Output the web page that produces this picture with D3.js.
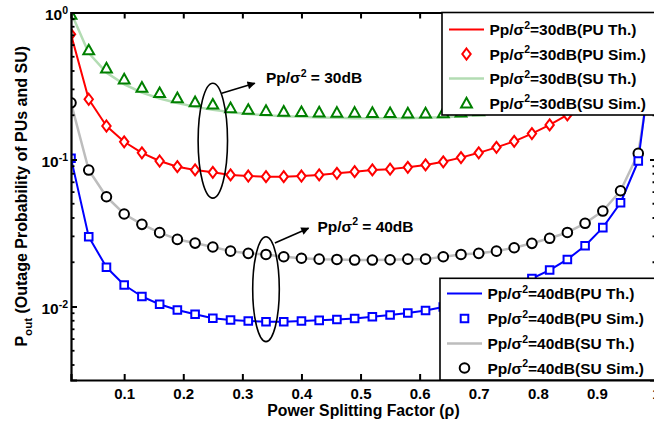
<!DOCTYPE html>
<html>
<head>
<meta charset="utf-8">
<script src="https://cdn.jsdelivr.net/npm/d3@7"></script>
<style>
  body { margin: 0; background: #fff; }
  svg { display: block; }
  text { font-family: "Liberation Sans", Arial, Helvetica, sans-serif; font-weight: bold; }
</style>
</head>
<body>
<svg id="chart" width="654" height="423"></svg>
<script>
// ---------------- DATA ----------------
const rhoSim = [0.01,0.04,0.07,0.10,0.13,0.16,0.19,0.22,0.25,0.28,0.31,0.34,0.37,0.40,0.43,0.46,0.49,
                0.52,0.55,0.58,0.61,0.64,0.67,0.70,0.73,0.76,0.79,0.82,0.85,0.88,0.91,0.94,0.97];
const rhoTh  = [0.01,0.04,0.07,0.10,0.13,0.16,0.19,0.22,0.25,0.28,0.31,0.34,0.37,0.40,0.43,0.46,0.49,
                0.52,0.55,0.58,0.61,0.64,0.67,0.70,0.73,0.76,0.79,0.82,0.85,0.88,0.91,0.94,0.97,0.98,0.99];

// Pp/sigma^2 = 30 dB
const puSim30 = [0.71,0.257,0.169,0.132,0.111,0.0977,0.0893,0.0849,0.0818,0.0785,0.0772,0.0764,0.0764,0.0772,0.0785,0.0805,0.0826,
                 0.0849,0.0860,0.0885,0.0918,0.0965,0.103,0.111,0.121,0.133,0.150,0.172,0.201,0.24,0.30,0.42,0.72];
const puTh30  = [0.71,0.257,0.169,0.132,0.111,0.0977,0.0893,0.0849,0.0818,0.0785,0.0772,0.0764,0.0764,0.0772,0.0785,0.0805,0.0826,
                 0.0849,0.0860,0.0885,0.0918,0.0965,0.103,0.111,0.121,0.133,0.150,0.172,0.201,0.24,0.30,0.42,0.72,1.0,2.0];
const suSim30 = [0.97,0.556,0.419,0.353,0.310,0.285,0.263,0.247,0.238,0.225,0.219,0.2155,0.2128,0.2114,0.2104,0.2094,0.2094,
                 0.2088,0.2084,0.2072,0.207,0.208,0.21,0.214,0.22,0.23,0.245,0.27,0.30,0.35,0.43,0.58,0.92];
const suTh30  = [1.0,0.53,0.39,0.325,0.285,0.26,0.242,0.228,0.218,0.21,0.204,0.2,0.197,0.195,0.193,0.192,0.191,
                 0.191,0.191,0.191,0.192,0.194,0.197,0.201,0.207,0.216,0.23,0.25,0.28,0.33,0.41,0.56,0.9,1.2,2.0];

// Pp/sigma^2 = 40 dB
const puSim40 = [0.102,0.0298,0.0185,0.0140,0.0117,0.01035,0.00947,0.00885,0.00831,0.00809,0.00796,0.00788,0.00788,0.00796,0.00805,0.00815,0.00829,
                 0.00852,0.00875,0.00903,0.00939,0.00992,0.01064,0.01142,0.01245,0.01378,0.0155,0.0177,0.0209,0.0259,0.0344,0.0508,0.0977];
const puTh40  = [0.102,0.0298,0.0185,0.0140,0.0117,0.01035,0.00947,0.00885,0.00831,0.00809,0.00796,0.00788,0.00788,0.00796,0.00805,0.00815,0.00829,
                 0.00852,0.00875,0.00903,0.00939,0.00992,0.01064,0.01142,0.01245,0.01378,0.0155,0.0177,0.0209,0.0259,0.0344,0.0508,0.0977,0.2,0.8];
const suSim40 = [0.243,0.0848,0.0558,0.0426,0.0362,0.0318,0.0286,0.0270,0.0254,0.0238,0.0230,0.0226,0.0218,0.0213,0.0210,0.0209,0.0207,
                 0.0207,0.0208,0.0210,0.0210,0.0218,0.0226,0.0230,0.0238,0.0251,0.0269,0.0291,0.0319,0.0368,0.0446,0.0613,0.110];
const suTh40  = [0.243,0.0848,0.0558,0.0426,0.0362,0.0318,0.0286,0.0270,0.0254,0.0238,0.0230,0.0226,0.0218,0.0213,0.0210,0.0209,0.0207,
                 0.0207,0.0208,0.0210,0.0210,0.0218,0.0226,0.0230,0.0238,0.0251,0.0269,0.0291,0.0319,0.0368,0.0446,0.0613,0.110,0.2,0.7];

const xTicks = [0.1,0.2,0.3,0.4,0.5,0.6,0.7,0.8,0.9,1];
const yTicks = [0.01,0.1,1];
const yTickExp = ["-2","-1","0"];

const legend30 = ["(PU Th.)","(PU Sim.)","(SU Th.)","(SU Sim.)"];
const legend40 = ["(PU Th.)","(PU Sim.)","(SU Th.)","(SU Sim.)"];

// ---------------- SETUP ----------------
const svg = d3.select("#chart");
const L = 71, R = 656, T = 12.5, B = 380;
const x = d3.scaleLinear().domain([0.01, 1.0]).range([L, R]);
const y = d3.scaleLog().domain([Math.pow(10,-2.5), 1]).range([B, T]);

const RED = "#ff0000", BLUE = "#0000ff", GREEN = "#008000", LGREEN = "#b3dcb3", GREY = "#bdbdbd";

svg.append("defs").append("clipPath").attr("id","plotclip")
  .append("rect").attr("x",L).attr("y",T).attr("width",R-L).attr("height",B-T);
svg.select("defs").append("marker").attr("id","arrow")
  .attr("viewBox","0 0 10 10").attr("refX",9).attr("refY",5)
  .attr("markerWidth",10).attr("markerHeight",8).attr("markerUnits","userSpaceOnUse")
  .attr("orient","auto")
  .append("path").attr("d","M0,0 L10,5 L0,10 Z").attr("fill","#000");

const plot = svg.append("g").attr("clip-path","url(#plotclip)");

function markerPath(type) {
  switch (type) {
    case "diamond": return "M0,-5.5 L4.2,0 L0,5.5 L-4.2,0 Z";
    case "square": return "M-3.8,-3.8 L3.8,-3.8 L3.8,3.8 L-3.8,3.8 Z";
    case "triangle": return "M0,-5.2 L5.4,4.4 L-5.4,4.4 Z";
    case "circle": return d3.arc()({innerRadius:0,outerRadius:4.8,startAngle:0,endAngle:2*Math.PI});
  }
}

function drawLine(xs, ys, color, width) {
  const line = d3.line().x((d,i)=>x(xs[i])).y(d=>y(d));
  plot.append("path").datum(ys).attr("d", line)
    .attr("fill","none").attr("stroke",color).attr("stroke-width",width)
    .attr("stroke-linejoin","round");
}
function drawMarkers(xs, ys, type, color) {
  plot.append("g").selectAll("path").data(ys).join("path")
    .attr("transform",(d,i)=>`translate(${x(xs[i])},${y(d)})`)
    .attr("d", markerPath(type))
    .attr("fill","#fff").attr("stroke",color).attr("stroke-width",2);
}

// theory lines
drawLine(rhoTh, suTh30, LGREEN, 2.5);
drawLine(rhoTh, suTh40, GREY, 2.5);
drawLine(rhoTh, puTh30, RED, 2);
drawLine(rhoTh, puTh40, BLUE, 2);
// simulation markers
drawMarkers(rhoSim, suSim30, "triangle", GREEN);
drawMarkers(rhoSim, puSim30, "diamond", RED);
drawMarkers(rhoSim, suSim40, "circle", "#000");
drawMarkers(rhoSim, puSim40, "square", BLUE);

// ---------------- AXES ----------------
const axes = svg.append("g");
const fmtX = d => d === 1 ? "1" : d3.format(".1f")(d);
const xb = axes.append("g").attr("transform",`translate(0,${B})`)
  .call(d3.axisBottom(x).tickValues(xTicks).tickSize(-6).tickPadding(8.5).tickFormat(fmtX));
const xt = axes.append("g").attr("transform",`translate(0,${T})`)
  .call(d3.axisTop(x).tickValues(xTicks).tickSize(-6).tickFormat(""));
const yl = axes.append("g").attr("transform",`translate(${L},0)`)
  .call(d3.axisLeft(y).tickValues(yTicks).tickSize(-6).tickFormat(""));
const yr = axes.append("g").attr("transform",`translate(${R},0)`)
  .call(d3.axisRight(y).tickValues(yTicks).tickSize(-6).tickFormat(""));
[xb,xt,yl,yr].forEach(g => {
  g.select(".domain").attr("stroke","#000").attr("stroke-width",2.2);
  g.selectAll(".tick line").attr("stroke","#000").attr("stroke-width",2);
});
xb.selectAll(".tick text").attr("font-size","15px").attr("font-weight","bold")
  .attr("font-family","'Liberation Sans', Arial, sans-serif").attr("fill","#000");

// minor log ticks
const minor = [];
for (let e = -3; e <= -1; e++) for (let m = 2; m <= 9; m++) {
  const v = m * Math.pow(10, e);
  if (v >= Math.pow(10,-2.5) && v <= 1) minor.push(v);
}
axes.append("g").selectAll("line").data(minor).join("line")
  .attr("x1",L).attr("x2",L+3.5).attr("y1",d=>y(d)).attr("y2",d=>y(d))
  .attr("stroke","#000").attr("stroke-width",1.8);
axes.append("g").selectAll("line").data(minor).join("line")
  .attr("x1",R).attr("x2",R-3.5).attr("y1",d=>y(d)).attr("y2",d=>y(d))
  .attr("stroke","#000").attr("stroke-width",1.8);

// y tick labels 10^k
const ylab = axes.append("g").selectAll("text").data(yTicks).join("text")
  .attr("x", 68).attr("y", d => y(d) + 7.5).attr("text-anchor","end")
  .attr("font-size","15.5px");
ylab.append("tspan").text("10");
ylab.append("tspan").attr("font-size","10.5px").attr("dy",-6.5).text((d,i)=>yTickExp[i]);

// axis titles
svg.append("text").attr("x",(L+R)/2).attr("y",416).attr("text-anchor","middle")
  .attr("font-size","15.8px").text("Power Splitting Factor (ρ)");
const ytitle = svg.append("text").attr("transform",`translate(27,${(T+B)/2}) rotate(-90)`)
  .attr("text-anchor","middle").attr("font-size","16px");
ytitle.append("tspan").text("P");
ytitle.append("tspan").attr("font-size","11.5px").attr("dy",4.5).text("out");
ytitle.append("tspan").attr("dy",-4.5).text(" (Outage Probability of PUs and SU)");

// ---------------- ANNOTATIONS ----------------
const ann = svg.append("g");
function ellipse(xc, vTop, vBot, rx) {
  const yt = y(vTop), yb = y(vBot);
  ann.append("ellipse").attr("cx",x(xc)).attr("cy",(yt+yb)/2).attr("rx",rx).attr("ry",(yb-yt)/2)
    .attr("fill","none").attr("stroke","#000").attr("stroke-width",1.6);
}
ellipse(0.25, 0.33, 0.0546, 14.7);
ellipse(0.34, 0.0298, 0.00577, 13.3);
function arrow(x0,v0,x1,v1) {
  ann.append("line").attr("x1",x(x0)).attr("y1",y(v0)).attr("x2",x(x1)).attr("y2",y(v1))
    .attr("stroke","#000").attr("stroke-width",1.6).attr("marker-end","url(#arrow)");
}
arrow(0.265,0.282,0.321,0.330);
arrow(0.355,0.0270,0.412,0.0341);
function annText(xv, v, db) {
  const t = ann.append("text").attr("x",x(xv)).attr("y",y(v)).attr("font-size","15.5px");
  t.append("tspan").text("Pp/σ");
  t.append("tspan").attr("font-size","10.5px").attr("dy",-6.5).text("2");
  t.append("tspan").attr("dy",6.5).text(" = " + db);
}
annText(0.34, 0.329, "30dB");
annText(0.427, 0.0322, "40dB");

// ---------------- LEGENDS ----------------
function legend(x0, y0, h, rows, prefix, items) {
  const g = svg.append("g");
  g.append("rect").attr("x",x0).attr("y",y0).attr("width",240).attr("height",h)
    .attr("fill","#fff").attr("stroke","#000").attr("stroke-width",1.6);
  items.forEach((it, i) => {
    const ry = rows[i];
    if (it.line) {
      g.append("line").attr("x1",x0+7).attr("x2",x0+42).attr("y1",ry).attr("y2",ry)
        .attr("stroke",it.color).attr("stroke-width",it.w);
    } else {
      g.append("path").attr("transform",`translate(${x0+24.5},${ry})`).attr("d",markerPath(it.marker))
        .attr("fill","#fff").attr("stroke",it.color).attr("stroke-width",2);
    }
    const t = g.append("text").attr("x",x0+47.5).attr("y",ry+5.5).attr("font-size","15.5px");
    t.append("tspan").text("Pp/σ");
    t.append("tspan").attr("font-size","10.5px").attr("dy",-6.5).text("2");
    t.append("tspan").attr("dy",6.5).text(prefix + it.label);
  });
}
legend(442, T, 115 - T, [29.5, 54, 78.5, 103], "=30dB", [
  {line:true, color:RED, w:2, label:legend30[0]},
  {marker:"diamond", color:RED, label:legend30[1]},
  {line:true, color:LGREEN, w:2.5, label:legend30[2]},
  {marker:"triangle", color:GREEN, label:legend30[3]}
]);
legend(440, 278.3, B - 278.3, [293.5, 318.5, 343.5, 368], "=40dB", [
  {line:true, color:BLUE, w:2, label:legend40[0]},
  {marker:"square", color:BLUE, label:legend40[1]},
  {line:true, color:GREY, w:2.5, label:legend40[2]},
  {marker:"circle", color:"#000", label:legend40[3]}
]);
</script>
</body>
</html>
